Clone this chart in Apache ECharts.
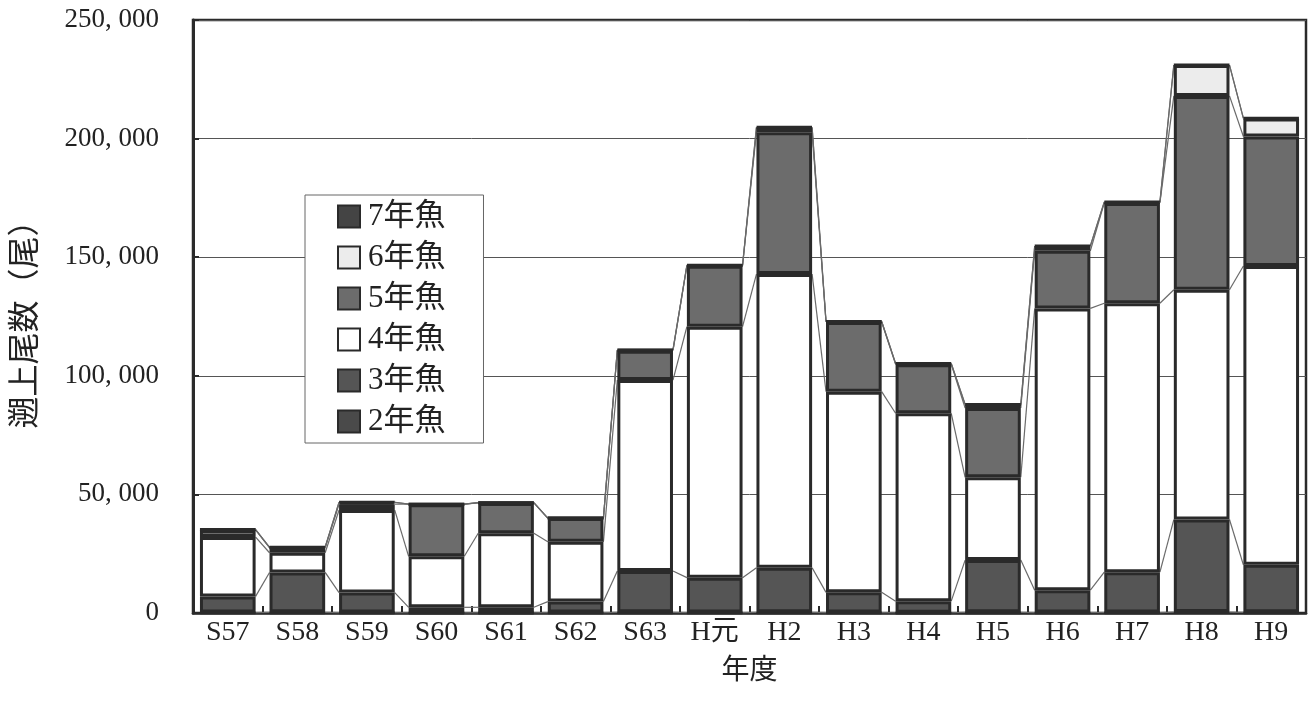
<!DOCTYPE html>
<html><head><meta charset="utf-8">
<script src="https://cdn.jsdelivr.net/npm/echarts@6/dist/echarts.min.js"></script>
<style>html,body{margin:0;padding:0;background:#fff}#c{width:1316px;height:713px}</style>
</head><body><div id="c"></div>
<script>
const categories = ['S57','S58','S59','S60','S61','S62','S63','H元','H2','H3','H4','H5','H6','H7','H8','H9'];
const age2 = [200, 300, 200, 100, 100, 200, 300, 200, 300, 200, 100, 300, 200, 200, 400, 300];
const age3 = [6800, 16800, 8400, 2300, 2300, 4600, 17400, 14700, 18800, 8500, 4900, 22000, 9400, 17000, 39000, 20000];
const age4 = [25000, 8300, 34800, 21500, 31200, 25200, 80500, 105800, 123800, 84600, 79200, 34900, 118800, 113400, 96900, 126000];
const age5 = [3000, 2200, 2500, 22000, 12800, 10000, 12400, 25700, 59800, 29400, 20700, 29200, 24300, 42300, 81700, 54600];
const age6 = [200, 100, 800, 0, 100, 0, 300, 200, 2000, 200, 300, 1500, 2000, 300, 13000, 7600];
const age7 = [0, 0, 0, 0, 0, 0, 0, 0, 100, 0, 0, 0, 0, 100, 0, 100];
const yTicks = [0, 50000, 100000, 150000, 200000, 250000];

const seriesDefs = [
  {name:'2年魚', data:age2, color:'#4a4a4a'},
  {name:'3年魚', data:age3, color:'#555555'},
  {name:'4年魚', data:age4, color:'#ffffff'},
  {name:'5年魚', data:age5, color:'#6c6c6c'},
  {name:'6年魚', data:age6, color:'#ececec'},
  {name:'7年魚', data:age7, color:'#444444'}
];
const serif = "'Liberation Serif','DejaVu Serif','Noto Sans CJK JP'";
const BAR_FRAC = 0.8;

// cumulative tops for series lines
const cum = [];
let running = categories.map(() => 0);
seriesDefs.forEach(s => {
  running = running.map((v, i) => v + s.data[i]);
  cum.push(running.slice());
});
const lineData = [];
cum.forEach(level => {
  for (let i = 0; i < categories.length - 1; i++) lineData.push([i, level[i], level[i + 1]]);
});

const series = seriesDefs.map(s => ({
  name: s.name, type: 'bar', stack: 'total', data: s.data,
  barCategoryGap: '20%', z: 3,
  itemStyle: {color: s.color, borderColor: '#2a2a2a', borderWidth: 3},
  emphasis: {disabled: true}
}));
series.push({
  type: 'custom', z: 1, silent: true, data: lineData,
  renderItem: function (params, api) {
    const i = api.value(0);
    const p0 = api.coord([i, api.value(1)]);
    const p1 = api.coord([i + 1, api.value(2)]);
    const bw = api.size([1, 0])[0] * BAR_FRAC;
    return {type: 'line', shape: {x1: p0[0] + bw / 2, y1: p0[1], x2: p1[0] - bw / 2, y2: p1[1]},
      style: {stroke: '#6a6a6a', lineWidth: 1.2}};
  }
});

const chart = echarts.init(document.getElementById('c'));
chart.setOption({
  animation: false,
  backgroundColor: '#ffffff',
  grid: {left: 193, right: 10, top: 20, bottom: 100, show: true, borderColor: '#2a2a2a', borderWidth: 2.5},
  legend: {
    orient: 'vertical', left: 305, top: 195,
    data: ['7年魚','6年魚','5年魚','4年魚','3年魚','2年魚'],
    icon: 'rect', itemWidth: 22, itemHeight: 22, itemGap: 10,
    padding: [6, 38, 6, 32],
    backgroundColor: '#ffffff', borderColor: '#666', borderWidth: 1,
    textStyle: {fontFamily: serif, fontSize: 31, color: '#222', lineHeight: 31, padding: [0, 0, 0, 3]}
  },
  xAxis: {
    type: 'category', data: categories,
    name: '年度', nameLocation: 'middle', nameGap: 45,
    nameTextStyle: {fontFamily: serif, fontSize: 28, color: '#222'},
    axisLine: {lineStyle: {color: '#2a2a2a', width: 2.5}},
    axisTick: {show: true, inside: true, length: 7, lineStyle: {color: '#2a2a2a', width: 2}},
    axisLabel: {fontFamily: serif, fontSize: 28, color: '#222', margin: 6}
  },
  yAxis: {
    type: 'value', min: yTicks[0], max: yTicks[yTicks.length - 1], interval: 50000,
    name: '遡上尾数（尾）', nameLocation: 'middle', nameGap: 150, nameRotate: 90,
    nameTextStyle: {fontFamily: serif, fontSize: 32, color: '#222'},
    axisLine: {show: true, lineStyle: {color: '#2a2a2a', width: 3}},
    axisTick: {show: true, inside: true, length: 6, lineStyle: {color: '#2a2a2a', width: 2}},
    splitLine: {lineStyle: {color: '#555', width: 1}},
    axisLabel: {fontFamily: serif, fontSize: 27, color: '#222', margin: 34,
      formatter: v => v === 0 ? '0' : String(v).replace(/\B(?=(\d{3})+(?!\d))/g, ', ')}
  },
  series: series
});
</script></body></html>
